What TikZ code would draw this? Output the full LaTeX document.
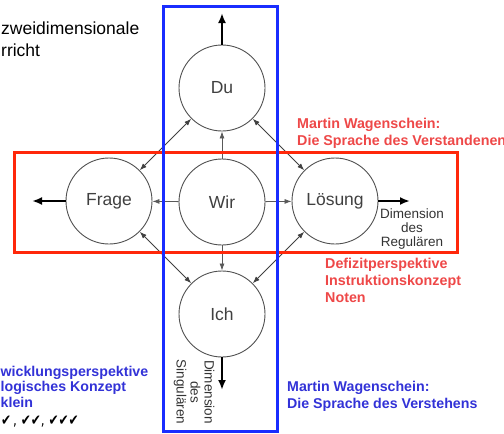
\documentclass[tikz,border=0pt]{standalone}
\usepackage{fontspec}
\setmainfont{Liberation Sans}
\newfontfamily\checkfont{DejaVu Sans}
\usetikzlibrary{arrows.meta}

\definecolor{boxred}{RGB}{255,40,10}
\definecolor{boxblue}{RGB}{25,45,255}
\definecolor{notered}{RGB}{238,72,72}
\definecolor{noteblue}{RGB}{50,50,215}
\definecolor{ringgray}{RGB}{80,80,80}

\begin{document}
\begin{tikzpicture}[x=1pt, y=-1pt,
    person/.style={circle, draw=ringgray, line width=0.9pt, minimum size=86pt, inner sep=0pt, text=black!75, font=\fontsize{17.5}{20}\selectfont},
    link/.style={draw=black!65, line width=0.8pt, -{Latex[length=7pt,width=5pt]}},
    twoway/.style={draw=black!75, line width=0.8pt, {Latex[length=7pt,width=5pt]}-{Latex[length=7pt,width=5pt]}},
    outward/.style={draw=black, line width=2pt, -{Latex[length=10pt,width=8pt]}},
    dimtext/.style={align=center, inner sep=0pt, text=black!80, font=\fontsize{13.5}{14}\selectfont},
    rednote/.style={anchor=base west, align=left, inner sep=0pt, text=notered, font=\bfseries\fontsize{14.3}{17}\selectfont},
    bluenote/.style={anchor=base west, align=left, inner sep=0pt, text=noteblue, font=\bfseries\fontsize{14.2}{15.5}\selectfont}
    ]
    \useasboundingbox (0,0) rectangle (504,434);

    \node [person] (du) at (222,88) {Du};
    \node [person] (wir) at (222,202) {Wir};
    \node [person] (ich) at (222,314) {Ich};
    \node [person] (frage) at (109,201) {Frage};
    \node [person] (loesung) at (335,201) {Lösung};

    \coordinate (up) at (222,13);
    \coordinate (left) at (32,201);
    \coordinate (right) at (410,201);
    \coordinate (down) at (222,390);

    \draw [link] (wir) -- (du);
    \draw [link] (wir) -- (frage);
    \draw [link] (wir) -- (loesung);
    \draw [link] (wir) -- (ich);

    \draw [twoway] (du) -- (frage);
    \draw [twoway] (du) -- (loesung);
    \draw [twoway] (ich) -- (frage);
    \draw [twoway] (ich) -- (loesung);

    \draw [outward] (du) -- (up);
    \draw [outward] (frage) -- (left);
    \draw [outward] (loesung) -- (right);
    \draw [outward] (ich) -- (down);

    \node [dimtext] (regular) at (412,229) {Dimension\\des\\Regulären};
    \node [dimtext, rotate=-90] (singular) at (194,392) {Dimension\\des\\Singulären};

    % frames
    \draw [boxred, line width=3pt] (14,152) rectangle (457,252);
    \draw [boxblue, line width=3pt] (163,6) rectangle (277,431);

    % notes
    \node [anchor=base west, align=left, inner sep=0pt, font=\fontsize{17.5}{21.5}\selectfont] (title) at (1,56) {zweidimensionale\\rricht};
    \node [rednote] (understood) at (297,145) {Martin Wagenschein:\\Die Sprache des Verstandenen};
    \node [rednote] (deficit) at (325,302) {Defizitperspektive\\Instruktionskonzept\\Noten};
    \node [bluenote, font=\bfseries\fontsize{14.2}{16.5}\selectfont] (understanding) at (287,408) {Martin Wagenschein:\\Die Sprache des Verstehens};
    \node [bluenote] (growth) at (0.5,407) {wicklungsperspektive\\logisches Konzept\\klein};
    \node [anchor=base west, inner sep=0pt, xscale=0.8, transform shape, font=\checkfont\fontsize{15}{15}\selectfont] (checks) at (1,425) {✔\,, ✔✔, ✔✔✔};
\end{tikzpicture}
\end{document}
